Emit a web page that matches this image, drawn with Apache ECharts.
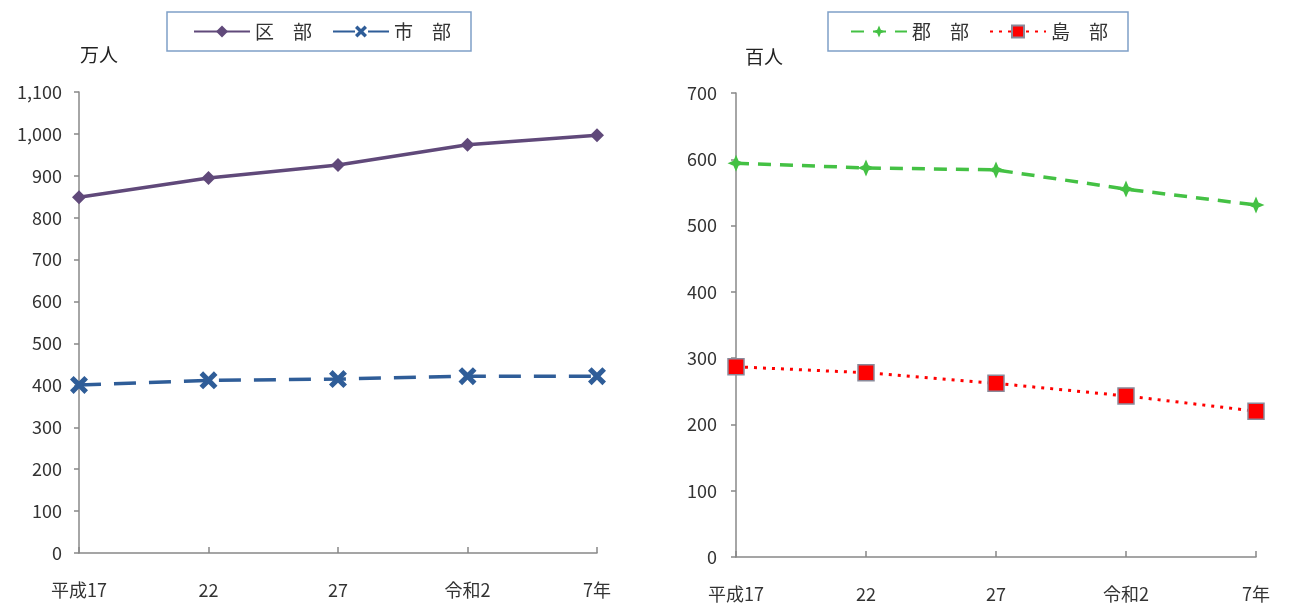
<!DOCTYPE html>
<html><head><meta charset="utf-8">
<script src="https://cdn.jsdelivr.net/npm/echarts@6/dist/echarts.min.js"></script>
<style>html,body{margin:0;padding:0;background:#fff}#c{width:1291px;height:605px}</style>
</head><body><div id="c"></div>
<script>
const categories = ['平成17', '22', '27', '令和2', '7年'];
const kubu = [849, 895, 926, 974, 997];
const shibu = [401, 412, 415, 422, 422];
const gunbu = [594, 587, 584, 555, 531];
const tobu = [287, 278, 262, 243, 220];
const leftTicks = { min: 0, max: 1100, interval: 100 };
const rightTicks = { min: 0, max: 700, interval: 100 };

const FONT = '"Noto Sans CJK JP", sans-serif';
const axisColor = '#888888';
const xPath = 'path://M2,0 L5,3 L8,0 L10,2 L7,5 L10,8 L8,10 L5,7 L2,10 L0,8 L3,5 L0,2 Z';
const starPath = 'path://M5,0 L6.5,3.5 L10,5 L6.5,6.5 L5,10 L3.5,6.5 L0,5 L3.5,3.5 Z';

function xAxis(gi) {
  return {
    type: 'category', gridIndex: gi, data: categories, boundaryGap: false,
    axisLine: { lineStyle: { color: axisColor, width: 1.5 } },
    axisTick: { inside: true, length: 6, lineStyle: { color: axisColor, width: 1.5 } },
    axisLabel: { color: '#333', fontSize: 18, margin: 28, fontFamily: FONT },
    splitLine: { show: false }
  };
}
function yAxis(gi, t, fmt, m) {
  return {
    type: 'value', gridIndex: gi, min: t.min, max: t.max, interval: t.interval,
    axisLine: { show: true, lineStyle: { color: axisColor, width: 1.5 } },
    axisTick: { show: true, length: 5, lineStyle: { color: axisColor, width: 1.5 } },
    axisLabel: { color: '#333', fontSize: 18, margin: m, fontFamily: FONT, formatter: fmt },
    splitLine: { show: false }
  };
}
const legendText = { fontSize: 19, color: '#333', fontFamily: FONT };

const chart = echarts.init(document.getElementById('c'));
chart.setOption({
  backgroundColor: '#fff',
  animation: false,
  textStyle: { fontFamily: FONT },
  grid: [
    { left: 79, top: 92, width: 518, height: 461 },
    { left: 736, top: 93, width: 520, height: 464 }
  ],
  legend: [
    { data: ['区　部', '市　部'], left: 167, top: 12,
      borderColor: '#7fa0c8', borderWidth: 1.5, padding: [10, 20, 10, 26], itemGap: 20,
      itemWidth: 56, itemHeight: 15, textStyle: legendText },
    { data: ['郡　部', '島　部'], left: 828, top: 12,
      borderColor: '#7fa0c8', borderWidth: 1.5, padding: [10, 20, 10, 22], itemGap: 20,
      itemWidth: 56, itemHeight: 15, textStyle: legendText }
  ],
  graphic: [
    { type: 'text', left: 80, top: 45, style: { text: '万人', fontSize: 19, fill: '#222', fontFamily: FONT } },
    { type: 'text', left: 745, top: 47, style: { text: '百人', fontSize: 19, fill: '#222', fontFamily: FONT } }
  ],
  xAxis: [xAxis(0), xAxis(1)],
  yAxis: [
    yAxis(0, leftTicks, v => v.toLocaleString('en-US'), 17),
    yAxis(1, rightTicks, v => String(v), 19)
  ],
  series: [
    { name: '区　部', type: 'line', xAxisIndex: 0, yAxisIndex: 0, data: kubu,
      symbol: 'diamond', symbolSize: 14, itemStyle: { color: '#60497a' },
      lineStyle: { color: '#60497a', width: 3.5 } },
    { name: '市　部', type: 'line', xAxisIndex: 0, yAxisIndex: 0, data: shibu,
      symbol: xPath, symbolSize: 18, itemStyle: { color: '#2f5d98' },
      lineStyle: { color: '#2f5d98', width: 3.5, type: [22, 13] } },
    { name: '郡　部', type: 'line', xAxisIndex: 1, yAxisIndex: 1, data: gunbu,
      symbol: starPath, symbolSize: 17, itemStyle: { color: '#44c144' },
      lineStyle: { color: '#44c144', width: 3.5, type: [13, 9] } },
    { name: '島　部', type: 'line', xAxisIndex: 1, yAxisIndex: 1, data: tobu,
      symbol: 'rect', symbolSize: 16, itemStyle: { color: '#ff0000', borderColor: '#8a8a9a', borderWidth: 1.5 },
      lineStyle: { color: '#ff0000', width: 3, type: [3, 6] } }
  ]
});
</script></body></html>
